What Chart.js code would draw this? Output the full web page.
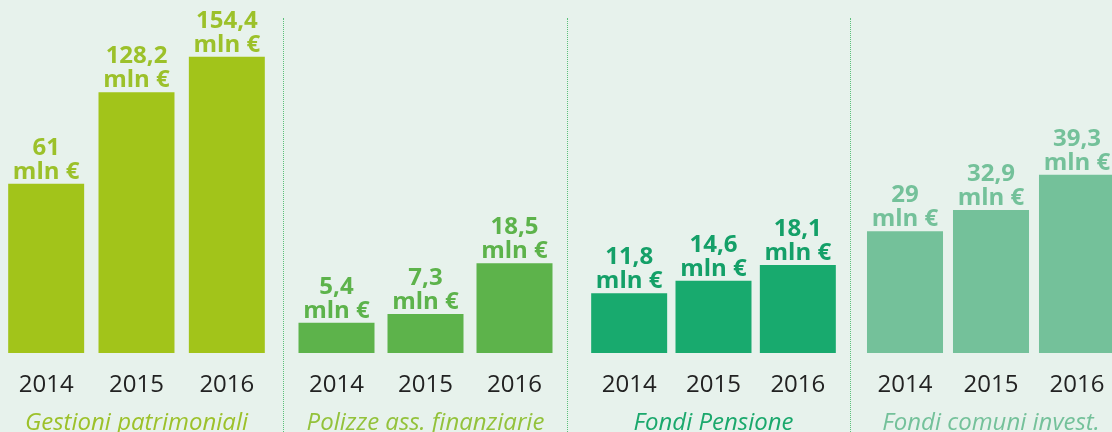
<!DOCTYPE html>
<html>
<head>
<meta charset="utf-8">
<script src="https://cdn.jsdelivr.net/npm/chart.js@4/dist/chart.umd.min.js"></script>
<style>
  body { margin: 0; background: #e7f2ec; width: 1112px; height: 432px; overflow: hidden; position: relative; }
  canvas { position: absolute; top: 0; }
  .sep { position: absolute; top: 18px; height: 414px; border-left: 1px dotted #5cc07a; }
</style>
</head>
<body>
<canvas id="c1" width="271" height="432" style="left:1px"></canvas>
<canvas id="c2" width="267" height="432" style="left:292px"></canvas>
<canvas id="c3" width="253" height="432" style="left:587px"></canvas>
<canvas id="c4" width="258" height="432" style="left:862px"></canvas>
<div class="sep" style="left:283px"></div>
<div class="sep" style="left:567px"></div>
<div class="sep" style="left:850px"></div>
<script>
var years = ["2014", "2015", "2016"];
var gestioni = [61, 128.2, 154.4];
var polizze = [5.4, 7.3, 18.5];
var pensione = [11.8, 14.6, 18.1];
var comuni = [29, 32.9, 39.3];
var titles = ["Gestioni patrimoniali", "Polizze ass. finanziarie", "Fondi Pensione", "Fondi comuni invest."];

// draws "value / mln €" above each bar
var valueLabels = {
  id: "valueLabels",
  afterDatasetsDraw: function (chart) {
    var ctx = chart.ctx;
    var ds = chart.data.datasets[0];
    ctx.save();
    ctx.fillStyle = ds.labelColor;
    ctx.font = "bold 24px 'Open Sans'";
    ctx.textAlign = "center";
    ctx.textBaseline = "alphabetic";
    chart.getDatasetMeta(0).data.forEach(function (bar, i) {
      var txt = String(ds.data[i]).replace(".", ",");
      ctx.fillText("mln €", bar.x, bar.y - 5);
      ctx.fillText(txt, bar.x, bar.y - 29);
    });
    ctx.restore();
  },
};

function makePanel(id, values, title, color, labelColor, titleColor, min, max, barPct) {
  return new Chart(document.getElementById(id), {
    type: "bar",
    data: {
      labels: years,
      datasets: [
        {
          data: values,
          base: min,
          backgroundColor: color,
          labelColor: labelColor,
          categoryPercentage: 1,
          barPercentage: barPct,
        },
      ],
    },
    options: {
      responsive: false,
      animation: false,
      layout: { padding: 0 },
      plugins: { legend: { display: false }, tooltip: { enabled: false } },
      scales: {
        y: { display: false, min: min, max: max },
        x: {
          grid: { display: false },
          border: { display: false },
          ticks: { color: "#222", font: { family: "'Open Sans'", size: 24 }, padding: 10 },
          title: {
            display: true,
            text: title,
            color: titleColor,
            padding: { top: 0, bottom: -3 },
            font: { family: "'Open Sans'", size: 24, style: "italic", lineHeight: 1 },
          },
          afterFit: function (scale) {
            scale.height = 79;
          },
        },
      },
    },
    plugins: [valueLabels],
  });
}

makePanel("c1", gestioni, titles[0], "#a2c41a", "#9cc12a", "#9cc12a", -63.5, 196.1, 0.841);
makePanel("c2", polizze, titles[1], "#5db34b", "#5db34b", "#93c23b", -1.28, 76.5, 0.854);
makePanel("c3", pensione, titles[2], "#18aa6e", "#14a068", "#1aa86c", -1.54, 77.26, 0.901);
makePanel("c4", comuni, titles[3], "#74c19a", "#74c19a", "#74c19a", 6.79, 71.2, 0.884);
</script>
</body>
</html>
